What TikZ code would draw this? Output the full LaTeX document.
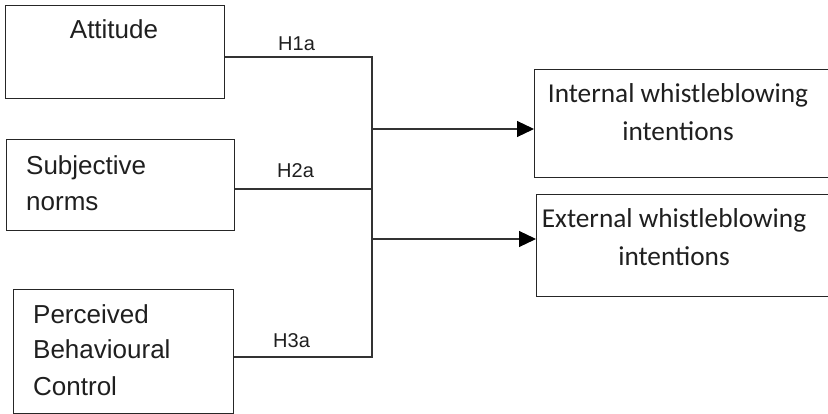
\documentclass[tikz,border=0pt]{standalone}
\usepackage{fontspec}
\setmainfont{Liberation Sans}
\newfontfamily\calib{Carlito}
\usetikzlibrary{arrows.meta}
\tikzset{
  box/.style={draw=black!85, line width=1.2pt, rectangle, inner sep=0pt, anchor=north west},
  lbl/.style={font=\fontsize{26}{36}\selectfont, text=black!88, inner sep=0pt, align=left},
  rlbl/.style={font=\calib\fontsize{27.3}{38}\selectfont, text=black!88, inner sep=0pt, align=center},
  hyp/.style={font=\fontsize{20}{22}\selectfont, text=black!88, inner sep=0pt, anchor=base west},
  conn/.style={draw=black!80, line width=1.2pt},
  arr/.style={conn, -{Triangle[length=17pt,width=16pt,color=black]}}
}
\begin{document}
\begin{tikzpicture}[x=1pt,y=-1pt]
\useasboundingbox (0,0) rectangle (828,414);
\clip (0,0) rectangle (828,414);
\node[box, minimum width=219pt, minimum height=93pt] (b1) at (5,5) {};
\node[box, minimum width=228pt, minimum height=91pt] (b2) at (6,139) {};
\node[box, minimum width=220pt, minimum height=124pt] (b3) at (13,289) {};
\node[box, minimum width=306pt, minimum height=108pt] (b4) at (534,69) {};
\node[box, minimum width=304pt, minimum height=102pt] (b5) at (536,194) {};
\node[lbl, anchor=base] (t1) at (114,39) {Attitude};
\node[lbl, anchor=base west] (t2) at (26,211) {Subjective\\norms};
\node[lbl, anchor=base west] (t3) at (33,395) {Perceived\\Behavioural\\Control};
\node[rlbl, anchor=base] (t4) at (678,141) {Internal whistleblowing\\intentions};
\node[rlbl, anchor=base] (t5) at (674,266) {External whistleblowing\\intentions};
\node[hyp] (h1) at (278,51) {H1a};
\node[hyp] (h2) at (277,178) {H2a};
\node[hyp] (h3) at (273,348) {H3a};
\coordinate (j1) at (372,57);
\coordinate (j2) at (372,189);
\coordinate (j3) at (372,357);
\coordinate (a1) at (372,129);
\coordinate (a2) at (372,239);
\draw[conn] (b1.east |- j1) -- (j1) -- (j3) -- (b3.east |- j3);
\draw[conn] (b2.east |- j2) -- (j2);
\draw[arr] (a1) -- (b4.west |- a1);
\draw[arr] (a2) -- (b5.west |- a2);
\end{tikzpicture}
\end{document}
